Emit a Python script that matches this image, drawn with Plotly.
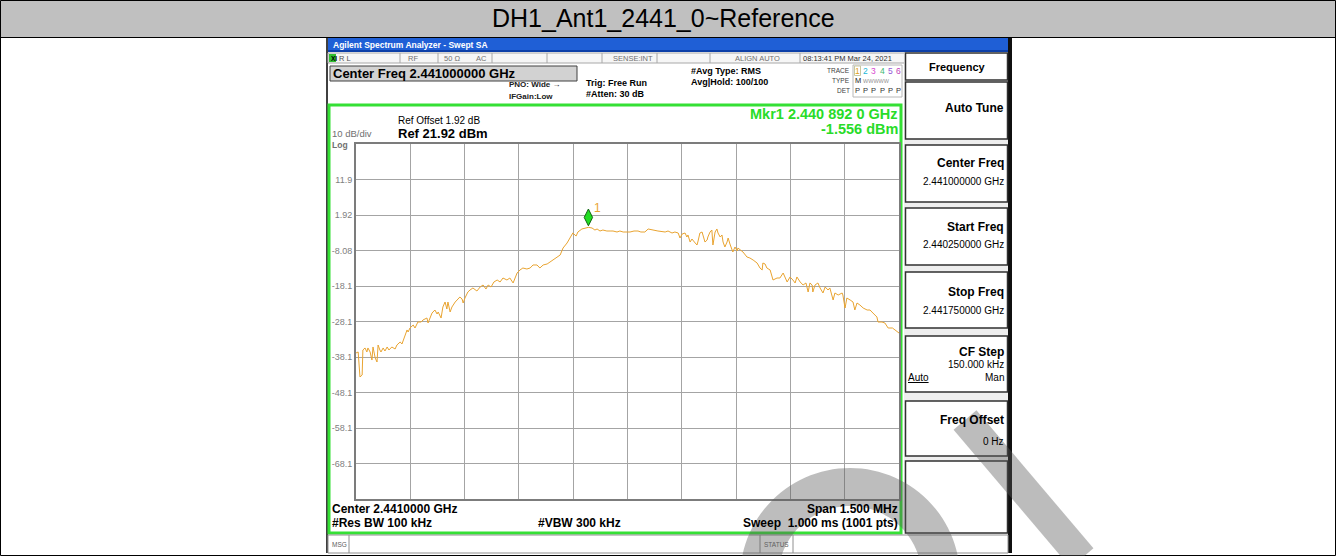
import math
import plotly.graph_objects as go

W, H = 1336, 556
FONT = "Liberation Sans, Arial, sans-serif"

# ---------------- data ----------------
title_text = "DH1_Ant1_2441_0~Reference"
start_ghz = 2.44025
stop_ghz = 2.44175
ref_level_dbm = 21.92
db_per_div = 10
n_div = 10

freq_khz = [
    0, 6, 11, 17, 19, 25, 30, 33, 39, 44,
    47, 53, 58, 61, 66, 69, 75, 80, 86, 91,
    99, 108, 113, 122, 127, 135, 141, 144, 149, 158,
    163, 171, 180, 185, 196, 199, 210, 218, 224, 227,
    235, 240, 246, 251, 254, 260, 265, 274, 279, 287,
    293, 296, 301, 309, 315, 323, 334, 343, 351, 359,
    365, 373, 381, 390, 398, 406, 417, 425, 434, 445,
    453, 461, 472, 481, 489, 500, 508, 517, 528, 536,
    544, 555, 564, 572, 583, 591, 599, 608, 613, 624,
    633, 642, 652, 660, 666, 674, 682, 693, 702, 710,
    721, 729, 738, 749, 757, 768, 779, 787, 798, 807,
    818, 834, 854, 862, 873, 881, 890, 895, 901, 909,
    914, 917, 923, 928, 937, 942, 945, 950, 956, 959,
    964, 970, 972, 978, 983, 986, 992, 997, 1000, 1006,
    1011, 1014, 1019, 1025, 1028, 1033, 1039, 1041, 1047, 1053,
    1055, 1061, 1069, 1080, 1088, 1097, 1108, 1116, 1122, 1124,
    1130, 1135, 1144, 1152, 1163, 1171, 1180, 1191, 1199, 1207,
    1213, 1218, 1227, 1235, 1243, 1249, 1254, 1260, 1262, 1268,
    1276, 1282, 1290, 1296, 1304, 1309, 1318, 1323, 1332, 1343,
    1345, 1351, 1356, 1365, 1373, 1378, 1384, 1392, 1401, 1412,
    1420, 1428, 1439, 1442, 1453, 1461, 1470, 1482, 1490, 1500,
]

level_dbm = [
    -36.95, -36.67, -43.71, -43.15, -36.11, -35.54, -36.67, -35.54, -36.67, -38.93,
    -35.26, -38.36, -39.49, -34.70, -36.11, -36.67, -35.54, -36.39, -35.26, -36.11,
    -35.26, -35.83, -34.70, -33.85, -34.42, -31.88, -30.47, -31.04, -29.91, -29.07,
    -29.91, -28.22, -28.22, -27.66, -27.09, -28.50, -25.69, -24.84, -25.97, -25.40,
    -27.09, -24.00, -22.59, -24.56, -22.59, -25.40, -24.00, -22.59, -22.02, -21.18,
    -21.74, -22.87, -21.46, -19.77, -19.21, -18.64, -19.49, -18.36, -17.80, -18.93,
    -17.80, -18.36, -16.95, -16.39, -16.95, -15.83, -16.39, -15.83, -17.23, -14.42,
    -13.57, -13.01, -13.29, -13.01, -12.16, -12.16, -13.01, -12.16, -11.88, -11.32,
    -10.76, -9.91, -9.35, -7.38, -5.97, -4.56, -3.15, -4.00, -2.87, -2.02,
    -1.70, -1.556, -1.74, -2.31, -2.02, -2.59, -2.31, -2.59, -2.59, -2.59,
    -2.87, -2.59, -2.87, -2.87, -2.87, -2.59, -2.59, -2.87, -2.87, -2.02,
    -2.31, -2.59, -2.87, -2.59, -3.15, -2.87, -3.15, -4.56, -3.43, -3.15,
    -4.28, -3.71, -5.69, -4.84, -5.97, -6.53, -5.40, -3.15, -2.87, -4.28,
    -5.69, -5.12, -4.28, -2.87, -2.31, -6.53, -2.87, -2.02, -3.15, -4.28,
    -3.71, -5.69, -7.09, -5.69, -4.56, -6.25, -7.94, -8.50, -7.09, -8.22,
    -7.38, -7.94, -8.50, -9.91, -10.19, -10.76, -11.60, -13.01, -13.57, -11.60,
    -11.88, -13.01, -13.57, -16.39, -15.83, -15.83, -14.42, -16.95, -15.54, -16.39,
    -17.23, -15.54, -16.95, -17.80, -17.23, -19.77, -17.23, -17.80, -19.77, -17.80,
    -17.23, -18.64, -20.05, -18.36, -19.21, -18.64, -22.02, -20.05, -20.62, -20.05,
    -20.62, -24.28, -21.46, -22.02, -22.59, -24.84, -22.87, -23.43, -24.28, -24.84,
    -24.84, -25.69, -26.81, -28.22, -28.22, -28.50, -29.91, -29.91, -30.47, -31.32,
]
assert len(freq_khz) == len(level_dbm)

mkr_ghz = 2.4408920
mkr_dbm = -1.556

y_tick_vals = [11.92, 1.92, -8.08, -18.08, -28.08, -38.08, -48.08, -58.08, -68.08]
y_tick_text = ["11.9", "1.92", "-8.08", "-18.1", "-28.1", "-38.1", "-48.1", "-58.1", "-68.1"]

trace_digits = ["1", "2", "3", "4", "5", "6"]
trace_digit_colors = ["#e0a020", "#20b8d8", "#d848d0", "#40b870", "#9058d8", "#c040b8"]

# ---------------- helpers ----------------
shapes = []
annotations = []


def px(x):
    return x / W


def py(y):
    return 1 - y / H


def rect(x0, y0, x1, y1, fill=None, line=None, lw=1, layer="below", opacity=1):
    shapes.append(dict(
        type="rect", xref="paper", yref="paper",
        x0=px(x0), x1=px(x1), y0=py(y1), y1=py(y0),
        fillcolor=fill if fill else "rgba(0,0,0,0)",
        line=dict(color=line if line else "rgba(0,0,0,0)", width=lw if line else 0),
        layer=layer, opacity=opacity))


def hline(x0, x1, y, color="#000", lw=1, layer="below"):
    shapes.append(dict(type="line", xref="paper", yref="paper",
                       x0=px(x0), x1=px(x1), y0=py(y), y1=py(y),
                       line=dict(color=color, width=lw), layer=layer))


def vline(x, y0, y1, color="#000", lw=1, layer="below"):
    shapes.append(dict(type="line", xref="paper", yref="paper",
                       x0=px(x), x1=px(x), y0=py(y0), y1=py(y1),
                       line=dict(color=color, width=lw), layer=layer))


def txt(x, y, s, size=10, color="#000", bold=False, anchor="left", family=FONT):
    annotations.append(dict(
        x=px(x), y=py(y), xref="paper", yref="paper",
        text=f"<b>{s}</b>" if bold else s, showarrow=False,
        xanchor=anchor, yanchor="middle", borderpad=0,
        font=dict(size=size, color=color, family=family)))


# ---------------- page frame ----------------
rect(0, 0, 1336, 37, fill="#c0c0c0")
rect(0.5, 0.5, 1335.5, 555.5, line="#000", lw=1)
hline(0, 1336, 37.5, "#000", 1)
txt(663, 18, title_text, size=25, color="#000", anchor="center")

# ---------------- analyzer screenshot ----------------
rect(327, 38, 1012, 553, fill="#ffffff")
vline(327, 38, 553, "#000", 1.5)
rect(1008, 38, 1012, 553, fill="#101010")
rect(328, 38, 1008, 52, fill="#1f5fd6")
rect(328, 50, 1008, 52, fill="#0c3fa8")
txt(332, 45, "Agilent Spectrum Analyzer - Swept SA", size=8.5, color="#ffffff", bold=True)

# status row
rect(328, 53, 905, 63, fill="#f6f6f6", line="#a8a8a8", lw=1)
for xd in [400, 438, 492, 547, 602, 657, 710, 800]:
    vline(xd, 53, 63, "#a8a8a8", 1)
rect(329, 54, 336, 62, fill="#30c030")
txt(330, 58, "XI", size=6.5, color="#000", bold=True)
txt(338, 58, "R L", size=7.5, color="#505050")
txt(407, 58, "RF", size=7.5, color="#707070")
txt(443, 58, "50 Ω", size=7.5, color="#707070")
txt(475, 58, "AC", size=7.5, color="#707070")
txt(633, 58, "SENSE:INT", size=7.5, color="#707070", anchor="center")
txt(758, 58, "ALIGN AUTO", size=7.5, color="#707070", anchor="center")
txt(802, 58, "08:13:41 PM Mar 24, 2021", size=7.5, color="#303030")

# header row
rect(330, 66, 577, 81, fill="#d2d2d2", line="#404040", lw=1)
txt(332, 73.5, "Center Freq 2.441000000 GHz", size=13, bold=True)
txt(508, 85, "PNO: Wide →", size=8, bold=True, color="#202020")
txt(508, 96, "IFGain:Low", size=8, bold=True, color="#202020")
txt(585, 83, "Trig: Free Run", size=9, bold=True)
txt(585, 94, "#Atten: 30 dB", size=9, bold=True)
txt(690, 71, "#Avg Type: RMS", size=9, bold=True)
txt(690, 82, "Avg|Hold: 100/100", size=9, bold=True)

rect(853, 65, 902, 97, line="#b8b8b8", lw=1)
rect(854.5, 66, 860.5, 75.5, line="#c8c8a0", lw=1)
txt(851, 71, "TRACE", size=6.5, color="#404040", anchor="right")
txt(851, 81, "TYPE", size=6.5, color="#404040", anchor="right")
txt(851, 91, "DET", size=6.5, color="#404040", anchor="right")
for i, (d, c) in enumerate(zip(trace_digits, trace_digit_colors)):
    txt(857.5 + i * 8.2, 71, d, size=8.5, color=c, anchor="center")
txt(854, 81, "M", size=7.5, color="#202020")
txt(862, 81, "WWWWW", size=5.5, color="#909090")
for i in range(6):
    txt(857.5 + i * 8.2, 91, "P", size=7.5, color="#303030", anchor="center")

# green measurement frame
rect(329, 105, 901, 533, line="#35e035", lw=3)
txt(397, 121, "Ref Offset 1.92 dB", size=10)
txt(397, 133, "Ref 21.92 dBm", size=13, bold=True)
txt(331, 133, "10 dB/div", size=9.5, color="#707070")
txt(331, 144.5, "Log", size=8.5, color="#707070", bold=True)
txt(899, 114, "Mkr1 2.440 892 0 GHz", size=14.5, color="#28dc28", bold=True, anchor="right")
txt(899, 129, "-1.556 dBm", size=14.5, color="#28dc28", bold=True, anchor="right")

txt(331, 509, "Center 2.4410000 GHz", size=12, bold=True)
txt(331, 523, "#Res BW 100 kHz", size=12, bold=True)
txt(537, 523, "#VBW 300 kHz", size=12, bold=True)
txt(899, 509, "Span 1.500 MHz", size=12, bold=True, anchor="right")
txt(899, 523, "Sweep  1.000 ms (1001 pts)", size=12, bold=True, anchor="right")

# message bar
rect(328, 535, 1008, 553, fill="#ffffff", line="#909090", lw=1)
vline(349, 535, 553, "#909090", 1)
vline(760, 535, 553, "#909090", 1)
vline(793, 535, 553, "#909090", 1)
txt(331, 544, "MSG", size=6.5, color="#606060")
txt(776.5, 544, "STATUS", size=6.5, color="#606060", anchor="center")

# softkey panel
rect(904, 53, 1008, 534, fill="#eeeeee")
for (y0, y1) in [(53, 80), (82, 139), (145, 202), (208, 265), (272, 328), (336, 392), (401, 456), (461, 533)]:
    rect(905.5, y0, 1007.5, y1, fill="#ffffff", line="#303030", lw=1.5)
txt(957, 66.5, "Frequency", size=11, bold=True, anchor="center")
txt(1005, 108, "Auto Tune", size=12, bold=True, anchor="right")
txt(1005, 163, "Center Freq", size=12, bold=True, anchor="right")
txt(1005, 181, "2.441000000 GHz", size=10, anchor="right")
txt(1005, 227, "Start Freq", size=12, bold=True, anchor="right")
txt(1005, 245, "2.440250000 GHz", size=10, anchor="right")
txt(1005, 292, "Stop Freq", size=12, bold=True, anchor="right")
txt(1005, 310, "2.441750000 GHz", size=10, anchor="right")
txt(1005, 352, "CF Step", size=12, bold=True, anchor="right")
txt(1005, 364, "150.000 kHz", size=10, anchor="right")
txt(907, 377, "<u>Auto</u>", size=10, anchor="left")
txt(1005, 377, "Man", size=10, anchor="right")
txt(1005, 420, "Freq Offset", size=12, bold=True, anchor="right")
txt(1005, 441, "0 Hz", size=10, anchor="right")

# watermark (semi-transparent logo fragments)
cx, cy, r_out, r_in = 850, 578, 110, 72
pts = []
for k in range(0, 61):
    a = math.pi - math.pi * k / 60
    pts.append((cx + r_out * math.cos(a), cy - r_out * math.sin(a)))
for k in range(60, -1, -1):
    a = math.pi - math.pi * k / 60
    pts.append((cx + r_in * math.cos(a), cy - r_in * math.sin(a)))
path = "M " + " L ".join(f"{px(x):.5f},{py(y):.5f}" for x, y in pts) + " Z"
shapes.append(dict(type="path", xref="paper", yref="paper", path=path,
                   fillcolor="#5a5a5a", line=dict(width=0), opacity=0.4, layer="above"))
shapes.append(dict(type="line", xref="paper", yref="paper",
                   x0=px(965), y0=py(420), x1=px(1082), y1=py(558),
                   line=dict(color="#5a5a5a", width=30), opacity=0.4, layer="above"))

# ---------------- chart ----------------
freq_ghz = [start_ghz + k / 1e6 for k in freq_khz]
span = stop_ghz - start_ghz
x_tick_vals = [start_ghz + span * i / n_div for i in range(1, n_div)]
bottom_level = ref_level_dbm - db_per_div * n_div

fig = go.Figure()
fig.add_trace(go.Scatter(x=freq_ghz, y=level_dbm, mode="lines",
                         line=dict(color="#e9a431", width=1), hoverinfo="skip"))
fig.add_trace(go.Scatter(x=[mkr_ghz], y=[mkr_dbm + 2.8], mode="markers",
                         marker=dict(symbol="diamond-tall", size=12, color="#22dd22",
                                     line=dict(color="#116611", width=1)),
                         hoverinfo="skip"))
annotations.append(dict(x=mkr_ghz, y=mkr_dbm, xref="x", yref="y", text="1",
                        showarrow=False, xshift=9, yshift=19,
                        font=dict(size=12, color="#e9a431", family=FONT)))

fig.update_layout(
    width=W, height=H, autosize=False,
    margin=dict(l=0, r=0, t=0, b=0),
    paper_bgcolor="#ffffff", plot_bgcolor="rgba(0,0,0,0)",
    showlegend=False,
    shapes=shapes, annotations=annotations,
    xaxis=dict(domain=[px(356), px(899)], range=[start_ghz, stop_ghz],
               tickvals=x_tick_vals, showticklabels=False, ticks="",
               showgrid=True, gridcolor="#a4a4a4", gridwidth=1, zeroline=False,
               showline=True, linecolor="#7c7c7c", linewidth=2, mirror=True),
    yaxis=dict(domain=[py(499), py(144)], range=[bottom_level, ref_level_dbm],
               tickvals=y_tick_vals, ticktext=y_tick_text, ticks="",
               tickfont=dict(size=9, color="#808080", family=FONT),
               showgrid=True, gridcolor="#a4a4a4", gridwidth=1, zeroline=False,
               showline=True, linecolor="#7c7c7c", linewidth=2, mirror=True),
)

fig.write_html("out.html", config={"displayModeBar": False},
               post_script="document.body.style.margin='0';document.body.style.overflow='hidden';")
